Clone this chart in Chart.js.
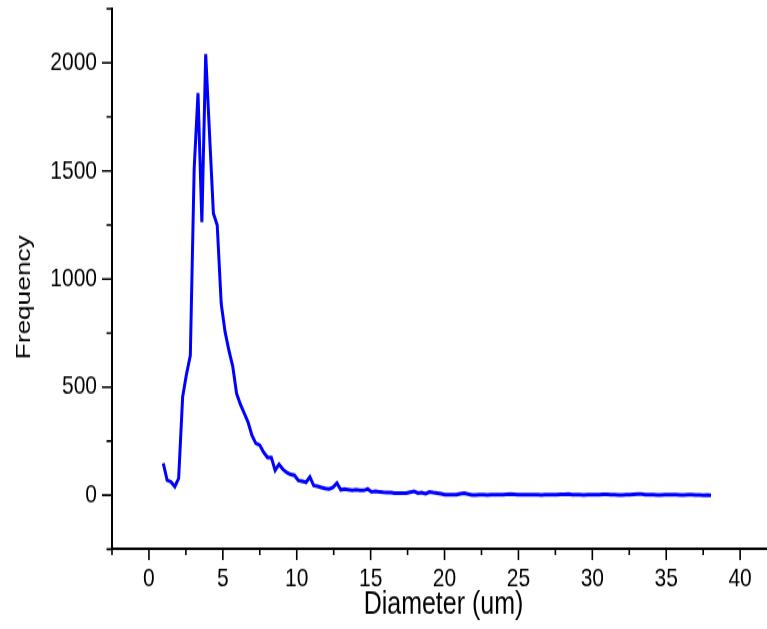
<!DOCTYPE html>
<html>
<head>
<meta charset="utf-8">
<script src="https://cdn.jsdelivr.net/npm/chart.js@4"></script>
<style>
    html, body { margin: 0; padding: 0; background: #fff; overflow: hidden; }
    .frame { width: 767px; height: 629px; overflow: hidden; }
    .stretch { transform: scale(1, 1.25); transform-origin: 0 0; width: 776px; height: 503px; }
    #chart { display: block; width: 776px; height: 503px; }
</style>
</head>
<body>
<div class="frame">
    <div class="stretch">
        <canvas id="chart" width="776" height="503"></canvas>
    </div>
</div>
<script>
// ── Data ──
const diameters = [
    0.97, 1.23, 1.49, 1.75, 2.01, 2.28, 2.54, 2.80, 3.06, 3.32,
    3.58, 3.84, 4.10, 4.36, 4.62, 4.89, 5.15, 5.41, 5.67, 5.93,
    6.19, 6.45, 6.71, 6.97, 7.23, 7.50, 7.76, 8.02, 8.28, 8.54,
    8.80, 9.06, 9.32, 9.58, 9.84, 10.11, 10.37, 10.63, 10.89, 11.15,
    11.41, 11.67, 11.93, 12.19, 12.45, 12.72, 12.98, 13.24, 13.50, 13.76,
    14.02, 14.28, 14.54, 14.80, 15.06, 15.33, 15.59, 15.85, 16.11, 16.37,
    16.63, 16.89, 17.15, 17.41, 17.67, 17.94, 18.20, 18.46, 18.72, 18.98,
    19.24, 19.50, 19.76, 20.02, 20.28, 20.55, 20.81, 21.07, 21.33, 21.59,
    21.85, 22.11, 22.37, 22.63, 22.89, 23.16, 23.42, 23.68, 23.94, 24.20,
    24.46, 24.72, 24.98, 25.24, 25.50, 25.77, 26.03, 26.29, 26.55, 26.81,
    27.07, 27.33, 27.59, 27.85, 28.11, 28.38, 28.64, 28.90, 29.16, 29.42,
    29.68, 29.94, 30.20, 30.46, 30.72, 30.99, 31.25, 31.51, 31.77, 32.03,
    32.29, 32.55, 32.81, 33.07, 33.33, 33.60, 33.86, 34.12, 34.38, 34.64,
    34.90, 35.16, 35.42, 35.68, 35.94, 36.21, 36.47, 36.73, 36.99, 37.25,
    37.51, 37.77, 38.03
];

const frequency = [
    148, 70, 62, 40, 78, 455, 560, 647, 1510, 1860,
    1263, 2040, 1670, 1304, 1249, 885, 756, 670, 596, 470,
    420, 379, 337, 277, 240, 231, 198, 175, 175, 115,
    143, 120, 105, 96, 92, 68, 64, 60, 85, 45,
    41, 36, 31, 29, 36, 56, 25, 28, 25, 22,
    25, 23, 22, 29, 15, 18, 16, 14, 13, 12,
    10, 10, 10, 10, 14, 18, 10, 12, 7, 15,
    12, 10, 7, 2, 2, 2, 2, 7, 10, 5,
    1, 1, 2, 2, 1, 2, 3, 2, 3, 4,
    5, 4, 3, 2, 2, 3, 2, 2, 1, 2,
    2, 3, 3, 4, 4, 5, 3, 2, 2, 1,
    2, 2, 3, 3, 4, 4, 3, 2, 1, 1,
    2, 3, 4, 5, 5, 3, 2, 2, 1, 1,
    2, 2, 3, 2, 1, 1, 2, 2, 1, 1,
    0, 1, 0
];

const xTicksMajor = [0, 5, 10, 15, 20, 25, 30, 35, 40];
const yTicksMajor = [0, 500, 1000, 1500, 2000];

const FONT = "'Liberation Sans', Arial, sans-serif";

// ── Tick marks (major + minor, pointing outward) ──
const tickMarks = {
    id: 'tickMarks',
    afterDraw(chart) {
        const ctx = chart.ctx;
        const xs = chart.scales.x;
        const ys = chart.scales.y;
        ctx.save();
        ctx.strokeStyle = '#000';
        ctx.lineWidth = 1.6;
        ctx.beginPath();
        for (let v = xs.min; v <= xs.max + 1e-6; v += 2.5) {
            const px = xs.getPixelForValue(v);
            const len = xTicksMajor.includes(v) ? 8.5 : 4.5;
            ctx.moveTo(px, ys.bottom);
            ctx.lineTo(px, ys.bottom + len);
        }
        for (let v = ys.min; v <= ys.max + 1e-6; v += 250) {
            const py = ys.getPixelForValue(v);
            const len = yTicksMajor.includes(v) ? 10 : 5.5;
            ctx.moveTo(xs.left, py);
            ctx.lineTo(xs.left - len, py);
        }
        ctx.stroke();
        ctx.restore();
    }
};

new Chart(document.getElementById('chart'), {
    type: 'line',
    data: {
        datasets: [{
            data: diameters.map((d, i) => ({ x: d, y: frequency[i] })),
            borderColor: '#0000ff',
            borderWidth: 3,
            pointRadius: 0,
            tension: 0,
            fill: false,
        }]
    },
    options: {
        responsive: false,
        animation: false,
        layout: { padding: { top: 7, right: 1, left: 0, bottom: 0 } },
        plugins: {
            legend: { display: false },
            tooltip: { enabled: false },
        },
        scales: {
            x: {
                type: 'linear',
                min: -2.5,
                max: 42.36,
                grid: { display: false, drawTicks: false },
                border: { display: true, color: '#000', width: 2 },
                ticks: {
                    stepSize: 2.5,
                    includeBounds: false,
                    autoSkip: false,
                    maxRotation: 0,
                    padding: 11,
                    color: '#000',
                    font: { family: FONT, size: 21 },
                    callback: v => xTicksMajor.includes(v) ? String(v) : '',
                },
                title: {
                    display: true,
                    text: 'Diameter (um)',
                    color: '#000',
                    font: { family: FONT, size: 25 },
                    padding: { top: 0, bottom: 4 },
                },
                afterFit(scale) {
                    scale.height = 63.6;
                    scale.paddingLeft = 0;
                    scale.paddingRight = 0;
                },
            },
            y: {
                type: 'linear',
                min: -250,
                max: 2250,
                grid: { display: false, drawTicks: false },
                border: { display: true, color: '#000', width: 2 },
                ticks: {
                    stepSize: 250,
                    includeBounds: false,
                    autoSkip: false,
                    padding: 15,
                    color: '#000',
                    font: { family: FONT, size: 21 },
                    callback: v => yTicksMajor.includes(v) ? String(v) : '',
                },
                title: {
                    display: true,
                    // trailing spaces nudge the label down, like the original layout
                    text: 'Frequency     ',
                    color: '#000',
                    font: { family: FONT, size: 21 },
                    padding: { top: 12, bottom: 0 },
                },
                afterFit(scale) {
                    scale.width = 112;
                    scale.paddingTop = 0;
                    scale.paddingBottom = 0;
                },
            },
        },
    },
    plugins: [tickMarks],
});
</script>
</body>
</html>
